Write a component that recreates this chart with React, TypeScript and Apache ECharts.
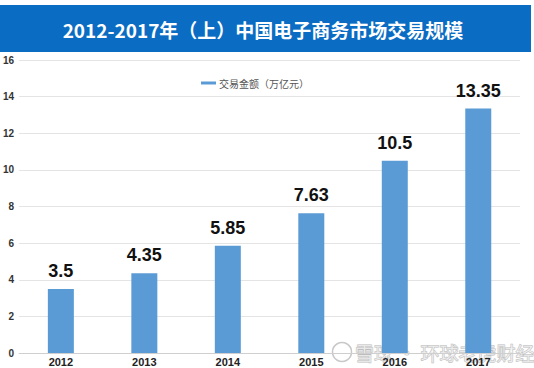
import React, { useEffect, useRef } from "react";
import * as echarts from "echarts";

const title = "2012-2017年（上）中国电子商务市场交易规模";
const seriesName = "交易金额（万亿元）";
const years = ["2012", "2013", "2014", "2015", "2016", "2017"];
const amounts = [3.5, 4.35, 5.85, 7.63, 10.5, 13.35];
const watermark = "雪球 · 环球老虎财经";

export default function App() {
  const ref = useRef<HTMLDivElement>(null);
  useEffect(() => {
    const chart = echarts.init(ref.current!, null, { renderer: "svg" });
    chart.setOption({
      animation: false,
      backgroundColor: "#ffffff",
      grid: { left: 18, right: 14, top: 60, bottom: 15, containLabel: false },
      legend: {
        left: 196,
        top: 73,
        data: [seriesName],
        icon: "rect",
        itemWidth: 15,
        itemHeight: 3,
        itemGap: 4,
        textStyle: { fontSize: 10, color: "#555", fontFamily: "Noto Sans CJK SC", padding: [0, 0, 0, -2] },
      },
      xAxis: {
        type: "category",
        data: years,
        axisLine: { lineStyle: { color: "#cfcfcf" } },
        axisTick: { show: false },
        axisLabel: { margin: 3, fontSize: 11, fontWeight: "bold", color: "#222", fontFamily: "Liberation Sans" },
      },
      yAxis: {
        type: "value",
        min: 0,
        max: 16,
        interval: 2,
        axisLine: { show: false },
        axisTick: { show: false },
        splitLine: { lineStyle: { color: "#e4e4e4" } },
        axisLabel: { margin: 5, fontSize: 10, color: "#333", fontFamily: "Liberation Sans", fontWeight: "bold" },
      },
      series: [
        {
          name: seriesName,
          type: "bar",
          data: amounts,
          barWidth: 26,
          itemStyle: { color: "#5b9bd5" },
          label: {
            show: true,
            position: "top",
            distance: 9,
            fontSize: 18,
            fontWeight: "bold",
            color: "#111",
            fontFamily: "Liberation Sans",
          },
        },
      ],
      graphic: [
        {
          type: "rect",
          shape: { x: 0, y: 5, width: 531, height: 47 },
          style: { fill: "#0b6cc3" },
          silent: true,
        },
        {
          type: "text",
          x: 263,
          y: 29,
          style: {
            text: title,
            fill: "#ffffff",
            fontSize: 19,
            fontWeight: "bold",
            fontFamily: "Noto Sans CJK SC",
            align: "center",
            verticalAlign: "middle",
          },
          silent: true,
        },
        {
          type: "circle",
          shape: { cx: 342, cy: 352, r: 9.5 },
          style: { fill: "none", stroke: "#c8c8c8", lineWidth: 1.5 },
          silent: true,
        },
        {
          type: "text",
          x: 355,
          y: 352,
          style: {
            text: watermark,
            fill: "rgba(255,255,255,0.6)",
            stroke: "#bdbdbd",
            lineWidth: 1,
            fontSize: 19,
            fontFamily: "Noto Sans CJK SC",
            align: "left",
            verticalAlign: "middle",
          },
          silent: true,
        },
      ],
    });
    return () => chart.dispose();
  }, []);
  return (
    <div
      ref={ref}
      style={{ position: "fixed", left: 0, top: 0, width: 534, height: 368 }}
    />
  );
}
